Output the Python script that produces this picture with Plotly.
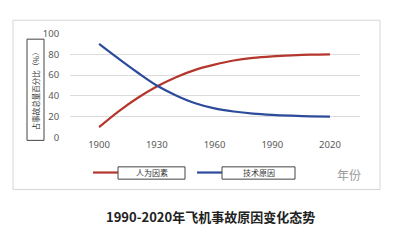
import plotly.graph_objects as go

years = [1900, 1910, 1920, 1930, 1940, 1950, 1960, 1970, 1980, 1990, 2000, 2010, 2020]
human = [10, 25, 38, 49, 58, 65, 70, 74, 76.5, 78, 79, 79.7, 80]
tech = [90, 76, 62.5, 50, 40.5, 33, 28, 25, 23, 21.8, 21, 20.4, 20]
xticks = [1900, 1930, 1960, 1990, 2020]
yticks = [0, 20, 40, 60, 80, 100]
series_names = ["人为因素", "技术原因"]
colors = ["#b5362c", "#2c4b9a"]

W, H = 399, 240
def px(x):
    return x / W
def py(y):
    return 1 - y / H

fig = go.Figure()
for name, vals, c in zip(series_names, [human, tech], colors):
    fig.add_trace(go.Scatter(x=years, y=vals, mode="lines", name=name,
                             line=dict(color=c, width=2.2, shape="spline", smoothing=1.0),
                             showlegend=False, hoverinfo="skip"))

cjk = "Noto Sans CJK SC"
fig.update_layout(
    width=W, height=H, margin=dict(l=0, r=0, t=0, b=0),
    paper_bgcolor="white", plot_bgcolor="white",
    xaxis=dict(domain=[px(70), px(360)], range=[1884.9, 2035.6], tickvals=xticks,
               showgrid=False, zeroline=False, showline=False,
               tickfont=dict(family="Noto Sans", size=9.5, color="#595959"), ticks="", ticklen=0),
    yaxis=dict(domain=[py(138), py(28)], range=[0, 100], tickvals=yticks,
               showgrid=True, gridcolor="#dcdcdc", gridwidth=1, zeroline=False, showline=False,
               tickfont=dict(family="Noto Sans", size=9.5, color="#595959"), ticks="outside",
               ticklen=8, tickcolor="rgba(0,0,0,0)"),
    font=dict(family=cjk),
)

shapes = [
    dict(type="rect", xref="paper", yref="paper", x0=px(13), x1=px(380), y0=py(193), y1=py(14),
         line=dict(color="#d6d6d6", width=1), layer="below"),
    dict(type="rect", xref="paper", yref="paper", x0=px(27), x1=px(44), y0=py(141), y1=py(34),
         line=dict(color="#444", width=1)),
    dict(type="line", xref="paper", yref="paper", x0=px(93), x1=px(118), y0=py(175), y1=py(175),
         line=dict(color=colors[0], width=2.2)),
    dict(type="rect", xref="paper", yref="paper", x0=px(118), x1=px(185), y0=py(182), y1=py(169),
         line=dict(color="#444", width=1)),
    dict(type="line", xref="paper", yref="paper", x0=px(197), x1=px(222), y0=py(175), y1=py(175),
         line=dict(color=colors[1], width=2.2)),
    dict(type="rect", xref="paper", yref="paper", x0=px(222), x1=px(295), y0=py(182), y1=py(169),
         line=dict(color="#444", width=1)),
]
fig.update_layout(shapes=shapes)

ann = [
    dict(text="占事故总量百分比（%）", x=px(35.5), y=py(87.5), textangle=-90,
         font=dict(size=7.5, color="#333", family=cjk)),
    dict(text=series_names[0], x=px(151.5), y=py(175.5), font=dict(size=8, color="#333", family=cjk)),
    dict(text=series_names[1], x=px(258.5), y=py(175.5), font=dict(size=8, color="#333", family=cjk)),
    dict(text="年份", x=px(349), y=py(177), font=dict(size=12, color="#9a9a9a", family=cjk)),
    dict(text="<b>1990-2020年飞机事故原因变化态势</b>", x=px(210), y=py(221),
         font=dict(size=13, color="#222", family=cjk)),
]
for a in ann:
    a.update(xref="paper", yref="paper", showarrow=False, xanchor="center", yanchor="middle")
fig.update_layout(annotations=ann)

fig.write_html("out.html")
